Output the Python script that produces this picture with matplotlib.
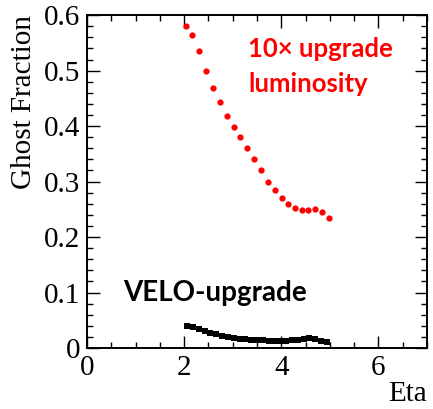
import matplotlib
matplotlib.use("Agg")
import matplotlib.pyplot as plt
from matplotlib.ticker import MultipleLocator, FuncFormatter

# Ghost fraction vs eta, red = 10x upgrade luminosity
eta_lumi = [2.03, 2.17, 2.31, 2.46, 2.60, 2.74, 2.88, 3.02, 3.16, 3.30, 3.44,
            3.59, 3.73, 3.87, 4.01, 4.14, 4.28, 4.42, 4.56, 4.70, 4.84, 4.98]
ghost_lumi = [0.581, 0.564, 0.536, 0.500, 0.468, 0.443, 0.419, 0.399, 0.380,
              0.360, 0.341, 0.321, 0.300, 0.285, 0.270, 0.259, 0.252, 0.249,
              0.249, 0.250, 0.245, 0.235]

# black = VELO-upgrade
eta_velo = [2.06, 2.18, 2.30, 2.42, 2.54, 2.66, 2.78, 2.90, 3.02, 3.14, 3.26,
            3.38, 3.50, 3.62, 3.74, 3.86, 3.98, 4.10, 4.22, 4.34, 4.46, 4.58,
            4.70, 4.82, 4.94]
ghost_velo = [0.040, 0.038, 0.035, 0.031, 0.028, 0.025, 0.022, 0.020, 0.018,
              0.017, 0.016, 0.015, 0.014, 0.014, 0.013, 0.013, 0.013, 0.013,
              0.014, 0.014, 0.016, 0.018, 0.016, 0.013, 0.011]

fig = plt.figure(figsize=(4.33, 4.09), dpi=100)
ax = fig.add_axes([0.201, 0.149, 0.785, 0.814])

ax.plot(eta_lumi, ghost_lumi, "o", color="red", markersize=4.5, markeredgewidth=0)
ax.plot(eta_velo, ghost_velo, "s", color="black", markersize=3.8, markeredgewidth=0)

ax.set_xlim(0, 7)
ax.set_ylim(0, 0.6)
ax.xaxis.set_major_locator(MultipleLocator(2))
ax.xaxis.set_minor_locator(MultipleLocator(0.5))
ax.yaxis.set_major_locator(MultipleLocator(0.1))
ax.yaxis.set_minor_locator(MultipleLocator(0.02))
fmt = FuncFormatter(lambda v, p: "0" if abs(v) < 1e-9 else "%g" % round(v, 2))
ax.xaxis.set_major_formatter(fmt)
ax.yaxis.set_major_formatter(fmt)

for s in ax.spines.values():
    s.set_linewidth(1.4)
ax.tick_params(which="both", direction="in", top=True, right=True, width=1.0)
ax.tick_params(which="major", length=9)
ax.tick_params(which="minor", length=4.5)
ax.tick_params(axis="both", labelsize=21)
ax.tick_params(axis="y", pad=5)
ax.tick_params(axis="x", pad=5)
for lab in ax.get_xticklabels() + ax.get_yticklabels():
    lab.set_family("Liberation Serif")

ax.set_ylabel("Ghost Fraction", family="Liberation Serif", fontsize=21, loc="top")
ax.set_xlabel("Eta", family="Liberation Serif", fontsize=21, loc="right")
ax.yaxis.set_label_coords(-0.147, 1.0)
ax.xaxis.set_label_coords(1.0, -0.098)

ax.text(0.475, 0.935, "10\u00d7 upgrade", transform=ax.transAxes,
        color="red", fontsize=18.5, fontweight="bold", family="Lato",
        va="top", ha="left")
ax.text(0.475, 0.83, "luminosity", transform=ax.transAxes,
        color="red", fontsize=18.5, fontweight="bold", family="Lato",
        va="top", ha="left")
ax.text(0.105, 0.205, "VELO-upgrade", transform=ax.transAxes,
        color="black", fontsize=20, fontweight="bold", family="Lato",
        va="top", ha="left")

fig.savefig("out.png", dpi=100)
